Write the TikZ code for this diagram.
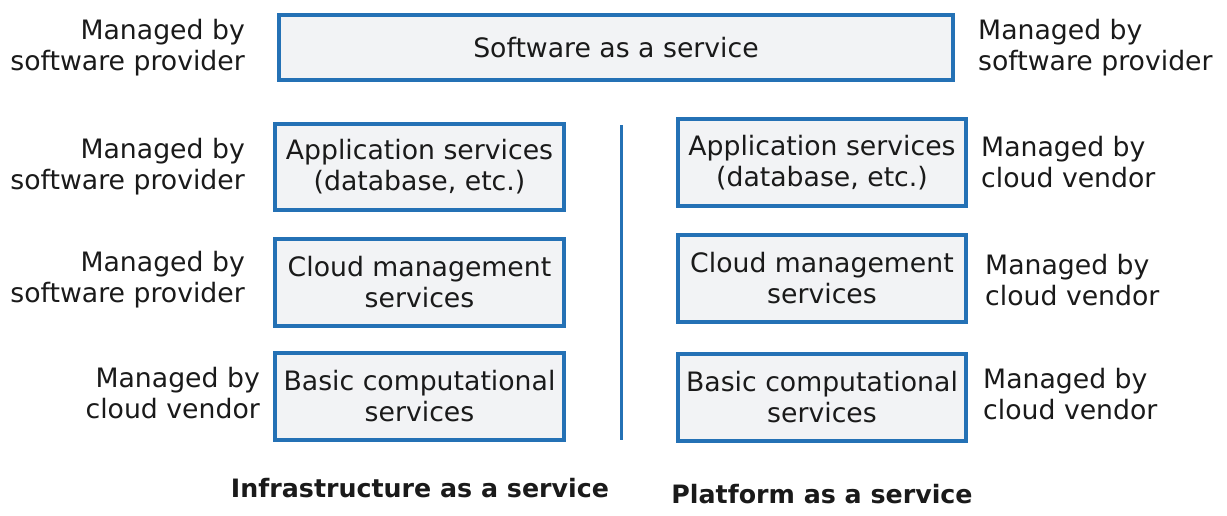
\documentclass[tikz,border=0pt]{standalone}
\usepackage{fontspec}
\setmainfont{DejaVu Sans}
\begin{document}
\begin{tikzpicture}[x=1pt,y=-1pt,
  box/.style={draw=boxblue,fill=boxfill,line width=3.5pt,inner sep=0pt},
  txt/.style={text=txtcol,font=\fontsize{26.7}{31}\selectfont,align=center,inner sep=0pt},
  lblr/.style={txt,align=right,anchor=east},
  lbll/.style={txt,align=left,anchor=west},
  ttl/.style={text=txtcol,font=\fontsize{25.3}{31}\selectfont\bfseries,inner sep=0pt}]
\definecolor{boxblue}{HTML}{2471B5}
\definecolor{boxfill}{HTML}{F2F3F5}
\definecolor{txtcol}{HTML}{1A1A1A}
\useasboundingbox (0,0) rectangle (1227,515);
% boxes
\draw[box] (279,15) rectangle (953,80);
\node[txt] (saas) at (616,48) {Software as a service};
\draw[box] (275,124) rectangle (564,210);
\node[txt] (la) at (419.5,167) {Application services\\(database, etc.)};
\draw[box] (275,239) rectangle (564,326);
\node[txt] (lc) at (419.5,282.5) {Cloud management\\services};
\draw[box] (275,353) rectangle (564,440);
\node[txt] (lb) at (419.5,396.5) {Basic computational\\services};
\draw[box] (678,119) rectangle (966,206);
\node[txt] (ra) at (822,162.5) {Application services\\(database, etc.)};
\draw[box] (678,235) rectangle (966,322);
\node[txt] (rc) at (822,278.5) {Cloud management\\services};
\draw[box] (678,354) rectangle (966,441);
\node[txt] (rb) at (822,397.5) {Basic computational\\services};
% divider
\coordinate (d1) at (621,125);
\coordinate (d2) at (621,440);
\draw[boxblue,line width=3pt] (d1) -- (d2);
% labels
\node[lblr] (l0) at (245,48) {Managed by\\software provider};
\node[lbll] (r0) at (978,48) {Managed by\\software provider};
\node[lblr] (l1) at (245,167) {Managed by\\software provider};
\node[lblr] (l2) at (245,280) {Managed by\\software provider};
\node[lblr] (l3) at (260,393) {Managed by\\cloud vendor};
\node[lbll] (r1) at (981,162) {Managed by\\cloud vendor};
\node[lbll] (r2) at (985,280) {Managed by\\cloud vendor};
\node[lbll] (r3) at (983,394) {Managed by\\cloud vendor};
% titles
\node[ttl] (iaas) at (420,488) {Infrastructure as a service};
\node[ttl] (paas) at (822,494) {Platform as a service};
\end{tikzpicture}
\end{document}
